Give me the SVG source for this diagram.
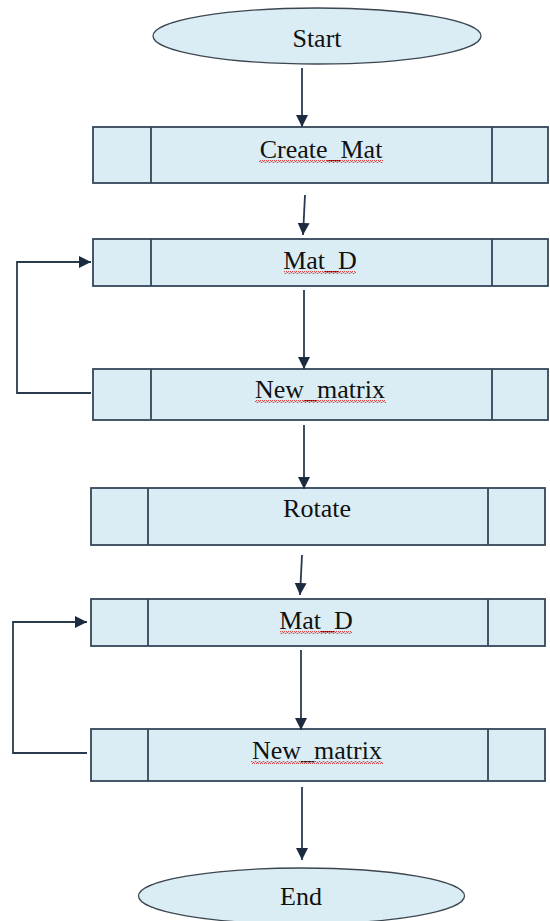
<svg xmlns="http://www.w3.org/2000/svg" width="550" height="921" viewBox="0 0 550 921">
<style>
.term{fill:#dbedf4;stroke:#3c4650;stroke-width:1.3}
.box{fill:#dbedf4;stroke:#34465a;stroke-width:1.8}
.div{stroke:#34465a;stroke-width:1.8;fill:none}
.lbl{font-family:'Liberation Serif','Times New Roman',serif;font-size:26px;fill:#111;text-anchor:middle}
.conn{stroke:#2a3a4e;stroke-width:1.8;fill:none}
.sq{fill:url(#squig)}
</style>
<defs>
<marker id="ah" markerUnits="userSpaceOnUse" markerWidth="12" markerHeight="14" refX="12" refY="6" orient="auto">
<path d="M0,0 L12,6 L0,12 Z" fill="#1c2b40"/>
</marker>
<pattern id="squig" patternUnits="userSpaceOnUse" width="4" height="3">
<path d="M0,2.5 L1,0.5 L2,0.5 L3,2.5 L4,2.5" stroke="#e03030" stroke-width="0.9" fill="none"/>
</pattern>
</defs>

<g id="start">
<ellipse class="term" cx="317" cy="36" rx="164" ry="28"/>
<text class="lbl" x="317" y="47">Start</text>
</g>

<g id="create_mat">
<rect class="box" x="93" y="127" width="455" height="56"/>
<line class="div" x1="151" y1="127" x2="151" y2="183"/>
<line class="div" x1="492" y1="127" x2="492" y2="183"/>
<text class="lbl" x="321" y="158">Create_Mat</text>
<rect class="sq" x="259" y="160" width="124" height="3"/>
</g>

<g id="mat_d_1">
<rect class="box" x="93" y="239" width="455" height="47"/>
<line class="div" x1="151" y1="239" x2="151" y2="286"/>
<line class="div" x1="492" y1="239" x2="492" y2="286"/>
<text class="lbl" x="320" y="269">Mat_D</text>
<rect class="sq" x="284" y="271" width="72" height="3"/>
</g>

<g id="new_matrix_1">
<rect class="box" x="93" y="369" width="455" height="51"/>
<line class="div" x1="151" y1="369" x2="151" y2="420"/>
<line class="div" x1="492" y1="369" x2="492" y2="420"/>
<text class="lbl" x="320" y="398">New_matrix</text>
<rect class="sq" x="255" y="400" width="131" height="3"/>
</g>

<g id="rotate">
<rect class="box" x="91" y="488" width="454" height="57"/>
<line class="div" x1="148" y1="488" x2="148" y2="545"/>
<line class="div" x1="488" y1="488" x2="488" y2="545"/>
<text class="lbl" x="317" y="517">Rotate</text>
</g>

<g id="mat_d_2">
<rect class="box" x="91" y="599" width="454" height="47"/>
<line class="div" x1="148" y1="599" x2="148" y2="646"/>
<line class="div" x1="488" y1="599" x2="488" y2="646"/>
<text class="lbl" x="316" y="629">Mat_D</text>
<rect class="sq" x="280" y="631" width="72" height="3"/>
</g>

<g id="new_matrix_2">
<rect class="box" x="91" y="729" width="454" height="52"/>
<line class="div" x1="148" y1="729" x2="148" y2="781"/>
<line class="div" x1="488" y1="729" x2="488" y2="781"/>
<text class="lbl" x="317" y="759">New_matrix</text>
<rect class="sq" x="251" y="761" width="132" height="3"/>
</g>

<g id="end">
<ellipse class="term" cx="301.5" cy="896" rx="163" ry="28"/>
<text class="lbl" x="301" y="905">End</text>
</g>

<g id="connectors">
<line class="conn" x1="302" y1="68" x2="302" y2="127" marker-end="url(#ah)"/>
<line class="conn" x1="305" y1="195" x2="303" y2="235" marker-end="url(#ah)"/>
<line class="conn" x1="304" y1="290" x2="304" y2="369" marker-end="url(#ah)"/>
<line class="conn" x1="304" y1="425" x2="304" y2="489" marker-end="url(#ah)"/>
<line class="conn" x1="302" y1="555" x2="300" y2="595" marker-end="url(#ah)"/>
<line class="conn" x1="301" y1="650" x2="301" y2="730" marker-end="url(#ah)"/>
<line class="conn" x1="302" y1="787" x2="302" y2="860" marker-end="url(#ah)"/>
<polyline class="conn" points="91,393 17,393 17,262 91,262" marker-end="url(#ah)"/>
<polyline class="conn" points="87,753 13,753 13,622 87,622" marker-end="url(#ah)"/>
</g>
</svg>
